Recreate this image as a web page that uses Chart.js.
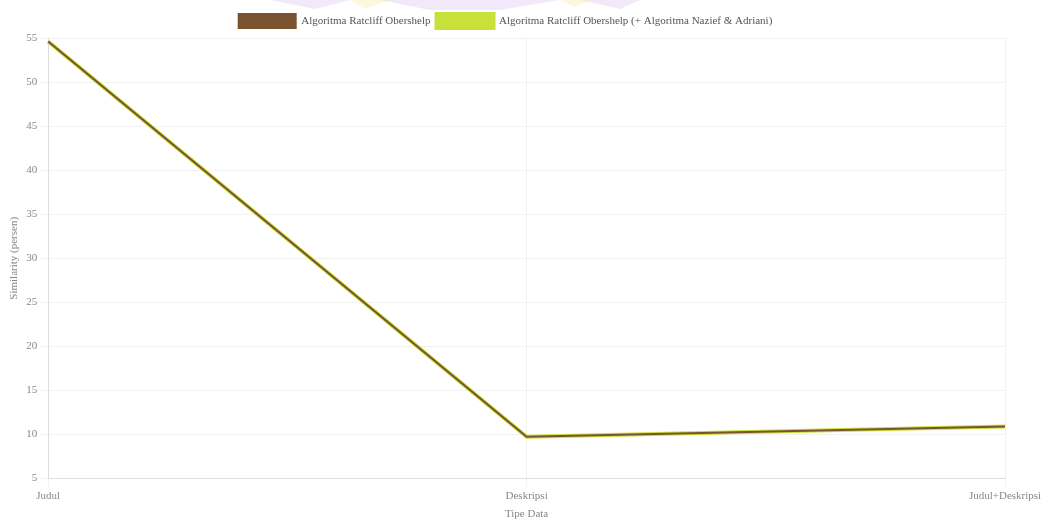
<!DOCTYPE html>
<html>
<head>
<meta charset="utf-8">
<script src="https://cdn.jsdelivr.net/npm/chart.js@4/dist/chart.umd.min.js"></script>
<style>
  html, body { margin: 0; padding: 0; background: #fff; }
  #wrap { width: 1054px; height: 525px; position: relative; }
</style>
</head>
<body>
<div id="wrap"><canvas id="myChart"></canvas></div>
<script>
const tipeData = ['Judul', 'Deskripsi', 'Judul+Deskripsi'];
const ratcliff = [54.6, 9.75, 10.9];
const ratcliffStem = [54.6, 9.75, 10.9];
const yTicks = [5, 10, 15, 20, 25, 30, 35, 40, 45, 50, 55];

Chart.defaults.font.family = '"Liberation Serif", "DejaVu Serif", serif';
Chart.defaults.font.size = 11;
Chart.defaults.color = '#777';

// faint logo shapes behind the legend
const backdrop = {
  id: 'backdrop',
  beforeDraw(chart) {
    const c = chart.ctx;
    c.save();
    c.globalAlpha = 0.25;
    c.fillStyle = '#c9a6e6';
    c.beginPath(); c.moveTo(270, 0); c.lineTo(350, 0); c.lineTo(315, 9); c.closePath(); c.fill();
    c.beginPath(); c.moveTo(380, 0); c.lineTo(560, 0); c.lineTo(500, 10); c.lineTo(430, 10); c.closePath(); c.fill();
    c.beginPath(); c.moveTo(580, 0); c.lineTo(640, 0); c.lineTo(620, 9); c.closePath(); c.fill();
    c.fillStyle = '#f3e27a';
    c.beginPath(); c.moveTo(350, 0); c.lineTo(390, 0); c.lineTo(365, 9); c.closePath(); c.fill();
    c.beginPath(); c.moveTo(560, 0); c.lineTo(590, 0); c.lineTo(575, 7); c.closePath(); c.fill();
    c.restore();
  }
};

const ctx = document.getElementById('myChart');

new Chart(ctx, {
  type: 'line',
  data: {
    labels: tipeData,
    datasets: [{
      label: 'Algoritma Ratcliff Obershelp',
      data: ratcliff,
      borderColor: '#7a5230',
      backgroundColor: '#7a5230',
      borderWidth: 2,
      pointRadius: 0,
      tension: 0,
      fill: false
    }, {
      label: 'Algoritma Ratcliff Obershelp (+ Algoritma Nazief & Adriani)',
      data: ratcliffStem,
      borderColor: '#c8e03a',
      backgroundColor: '#c8e03a',
      borderWidth: 4,
      pointRadius: 0,
      tension: 0,
      fill: false
    }]
  },
  options: {
    responsive: true,
    maintainAspectRatio: false,
    animation: false,
    layout: { padding: { top: 8, right: 49, left: 6, bottom: 0 } },
    plugins: {
      legend: {
        position: 'top',
        labels: { boxWidth: 57, boxHeight: 14, padding: 6, color: '#555', font: { size: 11 } }
      },
      tooltip: { enabled: false }
    },
    scales: {
      x: {
        offset: false,
        grid: { color: '#f2f2f2' },
        border: { color: '#ddd' },
        ticks: { maxRotation: 0, color: '#888' },
        title: { display: true, text: 'Tipe Data', color: '#888', padding: { top: 2 } }
      },
      y: {
        min: 5,
        max: 55,
        afterBuildTicks(axis) { axis.ticks = yTicks.map(v => ({ value: v })); },
        grid: { color: '#f2f2f2' },
        border: { color: '#ddd' },
        ticks: { color: '#888' },
        title: { display: true, text: 'Similarity (persen)', color: '#888', padding: 2 }
      }
    }
  },
  plugins: [backdrop]
});
</script>
</body>
</html>
